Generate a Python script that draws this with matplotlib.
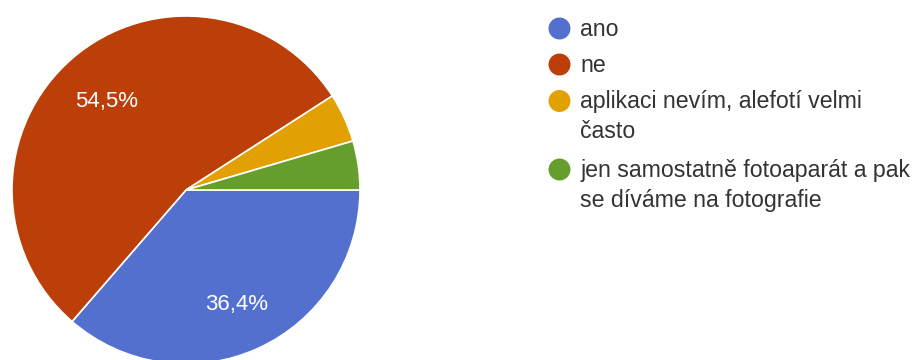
import matplotlib
matplotlib.use("Agg")
import matplotlib.pyplot as plt

plt.rcParams['font.family'] = ['Liberation Sans', 'DejaVu Sans']

# odpovedi (22 respondentu)
labels = ["ano", "ne", "aplikaci nevím, alefotí velmi\nčasto",
          "jen samostatně fotoaparát a pak\nse díváme na fotografie"]
counts = [8, 12, 1, 1]
colors = ["#5470CF", "#BC3E09", "#E3A002", "#669E2D"]

W, H = 917, 360
fig = plt.figure(figsize=(W / 100, H / 100), dpi=100)

# pie: center (186, 190) px, radius 174 px
cx, cy, r = 186, 190, 174
ax = fig.add_axes([(cx - r) / W, (H - cy - r) / H, 2 * r / W, 2 * r / H])


def pct(p):
    return ("%.1f%%" % p).replace(".", ",") if p > 10 else ""


wedges, texts, autotexts = ax.pie(
    counts, colors=colors, startangle=0, counterclock=False,
    autopct=pct, pctdistance=0.7,
    wedgeprops=dict(edgecolor="white", linewidth=1.2),
    textprops=dict(color="white", fontsize=16))
ax.set_xlim(-1, 1)
ax.set_ylim(-1, 1)
# nudge the percentages a few px down
for t in autotexts:
    x, y = t.get_position()
    t.set_position((x, y - 4 / r))

# legend drawn in pixel coordinates
lg = fig.add_axes([0, 0, 1, 1])
lg.set_xlim(0, W)
lg.set_ylim(H, 0)
lg.axis("off")

marker_y = [28.5, 64.5, 101, 169.5]
for lab, col, y in zip(labels, colors, marker_y):
    lg.scatter([559.5], [y], s=250, color=col, edgecolors="none")
    for i, line in enumerate(lab.split("\n")):
        lg.text(580, y + 7 + i * 30, line, fontsize=16.7, color="#333333",
                va="baseline", ha="left")

fig.savefig("out.png", dpi=100)
